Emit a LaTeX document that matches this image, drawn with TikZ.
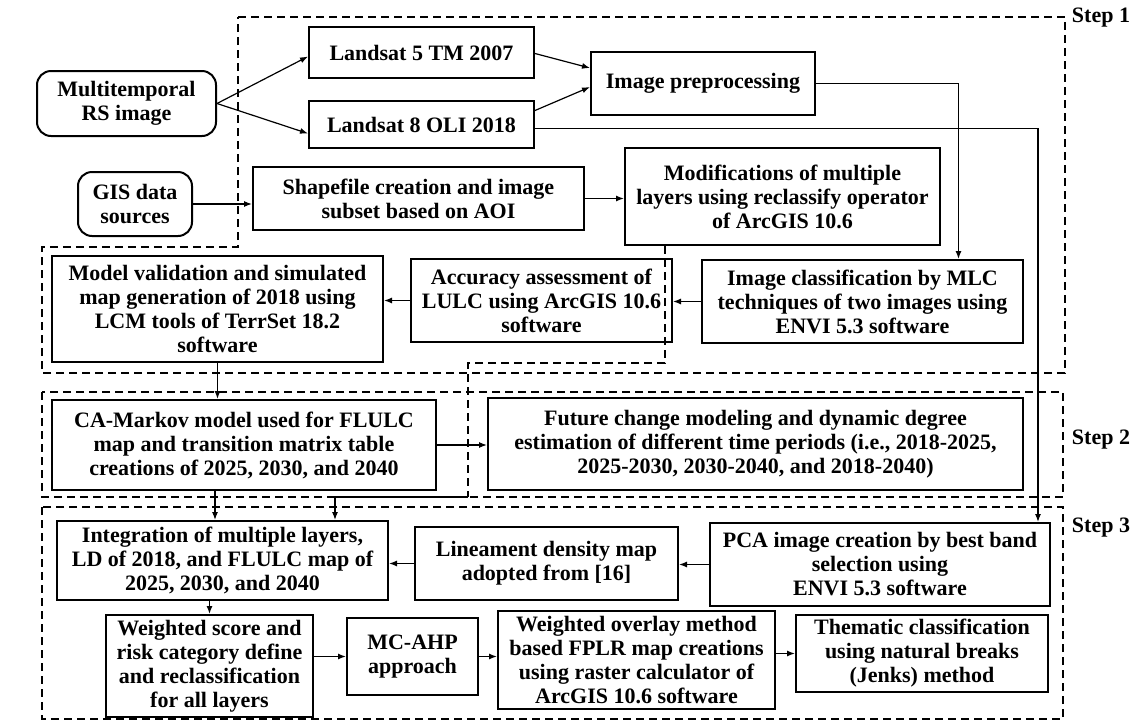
\documentclass[tikz,border=0pt]{standalone}
\usepackage{fontspec}
\setmainfont{Liberation Serif}
\usepackage{tikz}
\usetikzlibrary{positioning}
\usetikzlibrary{arrows.meta}
\tikzset{box/.style={draw, line width=1pt, align=center, inner sep=1pt, font=\fontsize{11}{12}\selectfont\bfseries}}
\tikzset{rbox/.style={box, rounded corners=7pt}}
\tikzset{conn/.style={-{Latex[length=4pt,width=3pt]}, line width=0.6pt}}
\tikzset{stepline/.style={dash pattern=on 4pt off 2.5pt, line width=0.8pt}}
\tikzset{steplabel/.style={font=\fontsize{11}{12}\selectfont\bfseries}}

\begin{document}
\begin{tikzpicture}[x=0.5pt, y=-0.5pt]
\useasboundingbox (0,0) rectangle (1137,724);
\node[rbox, minimum width=89.5pt, minimum height=32.5pt] (mrs) at (126.5,103.5) {Multitemporal\\RS image};
\node[rbox, minimum width=57pt, minimum height=32pt] (gis) at (135,204) {GIS data\\sources};
\node[box, minimum width=112.5pt, minimum height=25.5pt] (ls5) at (421.5,52.5) {Landsat 5 TM 2007};
\node[box, minimum width=112.5pt, minimum height=23.5pt] (ls8) at (421.5,124.5) {Landsat 8 OLI 2018};
\node[box, minimum width=112pt, minimum height=31.5pt] (prep) at (703,83.5) {Image preprocessing};
\node[box, minimum width=165.5pt, minimum height=31.5pt] (shp) at (418.5,198.5) {Shapefile creation and image\\subset based on AOI};
\node[box, minimum width=157.5pt, minimum height=48.5pt] (mod) at (782.5,196.5) {Modifications of multiple\\layers using reclassify operator\\of ArcGIS 10.6};
\node[box, minimum width=160.5pt, minimum height=41.5pt] (mlc) at (862.5,301.5) {Image classification by MLC\\techniques of two images using\\ENVI 5.3 software};
\node[box, minimum width=130.5pt, minimum height=41.5pt] (acc) at (541.5,300.5) {Accuracy assessment of\\LULC using ArcGIS 10.6\\software};
\node[box, minimum width=165.5pt, minimum height=53pt] (val) at (217.5,309) {Model validation and simulated\\map generation of 2018 using\\LCM tools of TerrSet 18.2\\software};
\node[box, minimum width=192pt, minimum height=45pt] (cam) at (244,445) {CA-Markov model used for FLULC\\map and transition matrix table\\creations of 2025, 2030, and 2040};
\node[box, minimum width=267.5pt, minimum height=46pt] (fut) at (755.5,444) {Future change modeling and dynamic degree\\estimation of different time periods (i.e., 2018-2025,\\2025-2030, 2030-2040, and 2018-2040)};
\node[box, minimum width=165.5pt, minimum height=39.5pt] (integ) at (222.5,560.5) {Integration of multiple layers,\\LD of 2018, and FLULC map of\\2025, 2030, and 2040};
\node[box, minimum width=131.5pt, minimum height=36.5pt] (lin) at (546.5,563.5) {Lineament density map\\adopted from [16]};
\node[box, minimum width=170pt, minimum height=41.5pt] (pca) at (880,564.5) {PCA image creation by best band\\selection using\\ENVI 5.3 software};
\node[box, minimum width=103.5pt, minimum height=51pt] (wsc) at (209.5,666) {Weighted score and\\risk category define\\and reclassification\\for all layers};
\node[box, minimum width=65.5pt, minimum height=38.5pt] (ahp) at (412.5,656.5) {MC-AHP\\approach};
\node[box, minimum width=138.5pt, minimum height=49pt] (wov) at (636.5,660) {Weighted overlay method\\based FPLR map creations\\using raster calculator of\\ArcGIS 10.6 software};
\node[box, minimum width=126pt, minimum height=38.5pt] (thm) at (922,653.5) {Thematic classification\\using natural breaks\\(Jenks) method};

% step frames
\draw[stepline] (238,17) -- (1065,17) -- (1065,373) -- (42,373) -- (42,247) -- (238,247) -- cycle;
\draw[stepline] (42,392) rectangle (1063,497);
\draw[stepline] (42,507) rectangle (1063,719);
\node[steplabel] (s1) at (1101,18) {Step 1};
\node[steplabel] (s2) at (1101,440) {Step 2};
\node[steplabel] (s3) at (1101,528) {Step 3};

\draw[conn] (mrs.east) -- ([yshift=-2pt]ls5.west);
\draw[conn] (mrs.east) -- ([yshift=-4.5pt]ls8.west);
\draw[conn] ([yshift=-0.5pt]ls5.east) -- ([yshift=7.75pt]prep.west);
\draw[conn] ([yshift=7pt]ls8.east) -- ([yshift=-1.75pt]prep.west);
\draw[conn] ([yshift=-2pt]ls8.east) -| ([xshift=-6.5pt]pca.north east);
\draw[conn] (prep.east) -| ([xshift=48pt]mlc.north);
\draw[conn] (gis.east) -- (gis.east -| shp.west);
\draw[conn] (shp.east) -- (shp.east -| mod.west);
\draw[conn] (mlc.west) -- (mlc.west -| acc.east);
\draw[conn] (acc.west) -- (acc.west -| val.east);
\draw[conn] (val.south) -- (val.south |- cam.north);
\draw[conn] (cam.east) -- (cam.east -| fut.west);
\draw[conn] (215,0 |- cam.south) -- (215,0 |- integ.north);
% reclassified layers go to step 3
\coordinate (turn) at (468,363);
\coordinate (bend) at (468,497);
\draw[stepline] ([xshift=-58.75pt]mod.south) |- (turn) -- (bend);
\draw[conn] (bend) -| ([xshift=56.25pt]integ.north);
\draw[conn] (pca.west) -- (pca.west -| lin.east);
\draw[conn] (lin.west) -- (lin.west -| integ.east);
\draw[conn] (wsc.north |- integ.south) -- (wsc.north);
\draw[conn] (ahp.west -| wsc.east) -- (ahp.west);
\draw[conn] (ahp.east) -- (ahp.east -| wov.west);
\draw[conn] (thm.west -| wov.east) -- (thm.west);
\end{tikzpicture}
\end{document}
